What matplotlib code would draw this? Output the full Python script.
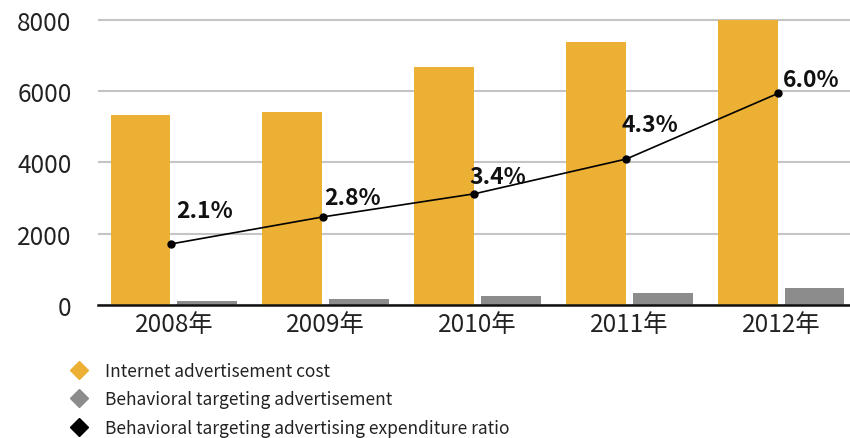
import matplotlib
matplotlib.use("Agg")
import matplotlib.pyplot as plt
from matplotlib.lines import Line2D
import numpy as np

plt.rcParams['font.family'] = ['Noto Sans CJK JP', 'DejaVu Sans']

years = ["2008年", "2009年", "2010年", "2011年", "2012年"]
internet_cost = [5340, 5420, 6690, 7370, 8000]
behavioral_cost = [110, 170, 260, 340, 480]
ratio_pct = [2.1, 2.8, 3.4, 4.3, 6.0]
ratio_labels = ["2.1%", "2.8%", "3.4%", "4.3%", "6.0%"]
legend_labels = ["Internet advertisement cost",
                 "Behavioral targeting advertisement",
                 "Behavioral targeting advertising expenditure ratio"]

ORANGE = "#EBB034"
GRAY = "#8C8C8C"
TEXT = "#222222"

fig = plt.figure(figsize=(8.5, 4.39), dpi=100)
ax = fig.add_axes([98 / 850, 133 / 439, 759 / 850, 285 * 8100 / 8000 / 439])

x = np.arange(len(years))
w = 0.395
off = 0.22
ax.bar(x - off, internet_cost, width=w, color=ORANGE, zorder=2)
ax.bar(x + off, behavioral_cost, width=w, color=GRAY, zorder=2)

ax.set_xlim(-0.5, 4.5)
ax.set_ylim(0, 8100)
ax.set_yticks([0, 2000, 4000, 6000, 8000])
ax.set_xticks(x)
ax.set_xticklabels(years)
ax.yaxis.grid(True, color="#C4C4C4", linewidth=1.5, zorder=0)
ax.set_axisbelow(True)
for s in ["left", "right", "top"]:
    ax.spines[s].set_visible(False)
ax.spines["bottom"].set_color("#111111")
ax.spines["bottom"].set_linewidth(1.8)
ax.spines["bottom"].set_zorder(3)
ax.tick_params(axis="both", length=0, labelsize=17.5, labelcolor=TEXT)
ax.tick_params(axis="y", pad=19)
ax.tick_params(axis="x", pad=4)

# Ratio line on a hidden secondary scale
ax2 = ax.twinx()
ax2.set_ylim(0.52, 0.52 + (7.9 - 0.52) * 8100 / 8000)
ax2.axis("off")
ax2.plot(x - 0.02, ratio_pct, color="black", linewidth=1.2, marker="o",
         markersize=5, zorder=4)
label_offsets = [(5, 22), (2, 8), (-5, 6), (-5, 23), (5, 2)]
for xi, p, lab, (dx, dy) in zip(x, ratio_pct, ratio_labels, label_offsets):
    ax2.annotate(lab, (xi - 0.02, p), xytext=(dx, dy), textcoords="offset pixels",
                 ha="left", va="bottom", fontsize=16.5, fontweight="bold",
                 color="#111111", zorder=5)

handles = [Line2D([], [], linestyle="none", marker="D", markersize=9.5,
                  color=c) for c in (ORANGE, GRAY, "black")]
fig.legend(handles, legend_labels, loc="upper left",
           bbox_to_anchor=(62 / 850, 1 - 354 / 439), frameon=False,
           fontsize=12.5, labelspacing=0.62, handletextpad=1.0,
           handlelength=1.0, borderpad=0, labelcolor=TEXT)

fig.savefig("out.png", dpi=100)
